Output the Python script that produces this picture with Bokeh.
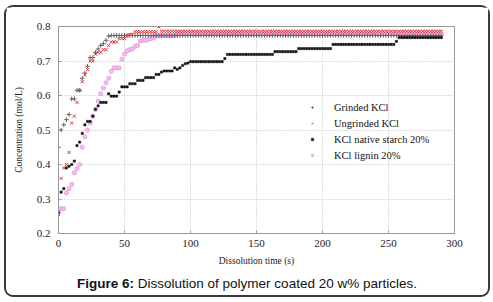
from bokeh.plotting import figure
from bokeh.models import Legend, LegendItem, FixedTicker, Range1d, ColumnDataSource, Div
from bokeh.layouts import column
from bokeh.embed import file_html
from bokeh.resources import INLINE

# time grid (s)
time_s = list(range(0, 292, 2))

grinded = [
    0.450, 0.500, 0.515, 0.530, 0.545, 0.590, 0.590, 0.615, 0.615, 0.650,
    0.665, 0.685, 0.710, 0.710, 0.725, 0.735, 0.745, 0.750, 0.760, 0.772,
    0.774, 0.774, 0.774, 0.774, 0.774, 0.774, 0.774, 0.774, 0.774, 0.774,
    0.774, 0.774, 0.774, 0.774, 0.774, 0.774, 0.774, 0.774, 0.774, 0.774,
    0.774, 0.774, 0.774, 0.774, 0.774, 0.774, 0.774, 0.774, 0.774, 0.774,
    0.774, 0.774, 0.774, 0.774, 0.774, 0.774, 0.774, 0.774, 0.774, 0.774,
    0.774, 0.774, 0.774, 0.774, 0.774, 0.774, 0.774, 0.774, 0.774, 0.774,
    0.774, 0.774, 0.774, 0.774, 0.774, 0.774, 0.774, 0.774, 0.774, 0.774,
    0.774, 0.774, 0.774, 0.774, 0.774, 0.774, 0.774, 0.774, 0.774, 0.774,
    0.774, 0.774, 0.774, 0.774, 0.774, 0.774, 0.774, 0.774, 0.774, 0.774,
    0.774, 0.774, 0.774, 0.774, 0.774, 0.774, 0.774, 0.774, 0.774, 0.774,
    0.774, 0.774, 0.774, 0.774, 0.774, 0.774, 0.774, 0.774, 0.774, 0.774,
    0.774, 0.774, 0.774, 0.774, 0.774, 0.774, 0.774, 0.774, 0.774, 0.774,
    0.773, 0.773, 0.773, 0.773, 0.773, 0.773, 0.773, 0.773, 0.773, 0.773,
    0.773, 0.773, 0.773, 0.773, 0.773, 0.773,
]

ungrinded = [
    0.255, 0.360, 0.390, 0.400, 0.435, 0.520, 0.540, 0.580, 0.615, 0.640,
    0.660, 0.675, 0.700, 0.700, 0.720, 0.725, 0.725, 0.733, 0.733, 0.745,
    0.755, 0.755, 0.755, 0.765, 0.765, 0.765, 0.774, 0.777, 0.777, 0.785,
    0.785, 0.785, 0.785, 0.785, 0.785, 0.785, 0.785, 0.785, 0.799, 0.786,
    0.786, 0.786, 0.786, 0.786, 0.786, 0.786, 0.786, 0.786, 0.786, 0.786,
    0.786, 0.786, 0.786, 0.786, 0.786, 0.786, 0.786, 0.786, 0.786, 0.786,
    0.786, 0.786, 0.786, 0.786, 0.786, 0.786, 0.786, 0.786, 0.786, 0.786,
    0.786, 0.786, 0.786, 0.786, 0.786, 0.786, 0.786, 0.786, 0.786, 0.786,
    0.786, 0.786, 0.786, 0.786, 0.786, 0.786, 0.786, 0.786, 0.786, 0.786,
    0.786, 0.786, 0.786, 0.786, 0.786, 0.786, 0.786, 0.786, 0.786, 0.786,
    0.786, 0.786, 0.786, 0.786, 0.786, 0.786, 0.786, 0.786, 0.786, 0.786,
    0.786, 0.786, 0.786, 0.786, 0.786, 0.786, 0.786, 0.786, 0.786, 0.786,
    0.786, 0.786, 0.786, 0.786, 0.786, 0.786, 0.786, 0.786, 0.786, 0.786,
    0.786, 0.786, 0.786, 0.786, 0.786, 0.786, 0.786, 0.786, 0.786, 0.786,
    0.786, 0.786, 0.786, 0.786, 0.786, 0.786,
]

native_starch = [
    0.260, 0.320, 0.330, 0.390, 0.395, 0.400, 0.410, 0.455, 0.465, 0.490,
    0.515, 0.525, 0.525, 0.540, 0.560, 0.570, 0.580, 0.580, 0.580, 0.605,
    0.598, 0.598, 0.598, 0.610, 0.625, 0.625, 0.625, 0.634, 0.634, 0.634,
    0.644, 0.644, 0.644, 0.652, 0.652, 0.652, 0.652, 0.661, 0.661, 0.668,
    0.671, 0.671, 0.671, 0.671, 0.680, 0.676, 0.680, 0.687, 0.692, 0.694,
    0.698, 0.698, 0.698, 0.698, 0.698, 0.698, 0.698, 0.698, 0.698, 0.698,
    0.698, 0.698, 0.698, 0.707, 0.719, 0.719, 0.719, 0.719, 0.719, 0.719,
    0.719, 0.719, 0.719, 0.719, 0.719, 0.719, 0.719, 0.719, 0.719, 0.719,
    0.719, 0.719, 0.727, 0.727, 0.727, 0.727, 0.727, 0.727, 0.727, 0.727,
    0.727, 0.736, 0.736, 0.736, 0.736, 0.736, 0.736, 0.736, 0.736, 0.736,
    0.736, 0.736, 0.736, 0.736, 0.748, 0.748, 0.748, 0.748, 0.748, 0.748,
    0.748, 0.748, 0.748, 0.748, 0.748, 0.748, 0.748, 0.748, 0.748, 0.748,
    0.748, 0.748, 0.748, 0.748, 0.748, 0.748, 0.748, 0.748, 0.757, 0.768,
    0.768, 0.768, 0.768, 0.768, 0.768, 0.768, 0.768, 0.768, 0.768, 0.768,
    0.768, 0.768, 0.768, 0.768, 0.768, 0.768,
]

lignin = [
    0.262, 0.272, 0.272, 0.318, 0.330, 0.342, 0.376, 0.388, 0.400, 0.450,
    0.480, 0.500, 0.520, 0.540, 0.560, 0.583, 0.605, 0.622, 0.637, 0.650,
    0.670, 0.680, 0.680, 0.680, 0.705, 0.720, 0.730, 0.733, 0.735, 0.743,
    0.745, 0.758, 0.760, 0.760, 0.762, 0.765, 0.767, 0.773, 0.773, 0.773,
    0.773, 0.773, 0.773, 0.773, 0.773, 0.779, 0.779, 0.779, 0.779, 0.779,
    0.779, 0.779, 0.779, 0.779, 0.779, 0.779, 0.779, 0.779, 0.779, 0.779,
    0.779, 0.779, 0.779, 0.779, 0.779, 0.779, 0.779, 0.779, 0.779, 0.779,
    0.779, 0.779, 0.779, 0.779, 0.779, 0.779, 0.779, 0.779, 0.779, 0.779,
    0.779, 0.779, 0.779, 0.779, 0.779, 0.779, 0.779, 0.779, 0.779, 0.779,
    0.779, 0.779, 0.779, 0.779, 0.779, 0.779, 0.779, 0.779, 0.779, 0.779,
    0.779, 0.779, 0.779, 0.779, 0.779, 0.779, 0.779, 0.779, 0.779, 0.779,
    0.779, 0.779, 0.779, 0.779, 0.779, 0.779, 0.779, 0.779, 0.779, 0.779,
    0.779, 0.779, 0.779, 0.779, 0.779, 0.779, 0.779, 0.779, 0.779, 0.779,
    0.779, 0.779, 0.779, 0.779, 0.779, 0.779, 0.779, 0.779, 0.779, 0.779,
    0.779, 0.779, 0.779, 0.779, 0.779, 0.779,
]

series_names = ["Grinded KCl", "Ungrinded KCl", "KCl native starch 20%", "KCl lignin 20%"]
x_ticks = [0, 50, 100, 150, 200, 250, 300]
y_ticks = [0.2, 0.3, 0.4, 0.5, 0.6, 0.7, 0.8]
caption_bold = "Figure 6:"
caption_text = "Dissolution of polymer coated 20 w% particles."

SERIF = "Liberation Serif"

p = figure(width=482, height=262, x_range=Range1d(0, 300), y_range=Range1d(0.2, 0.8),
           output_backend="svg", toolbar_location=None, margin=0,
           min_border_left=52, min_border_right=34, min_border_top=19, min_border_bottom=36)

p.outline_line_color = "#9a9a9a"
p.outline_line_width = 1

for ax in (p.xaxis[0], p.yaxis[0]):
    ax.axis_line_color = "#9a9a9a"
    ax.major_tick_in = 3
    ax.major_tick_out = 0
    ax.major_tick_line_color = "#9a9a9a"
    ax.minor_tick_line_color = None
    ax.major_label_text_font = SERIF
    ax.major_label_text_font_size = "11px"
    ax.major_label_text_color = "#222222"
    ax.axis_label_text_font = SERIF
    ax.axis_label_text_font_size = "9.5px"
    ax.axis_label_text_font_style = "normal"
    ax.axis_label_text_color = "#222222"

p.xaxis[0].ticker = FixedTicker(ticks=x_ticks)
p.yaxis[0].ticker = FixedTicker(ticks=y_ticks)
p.xaxis[0].axis_label = "Dissolution time (s)"
p.yaxis[0].axis_label = "Concentration (mol/L)"
p.xaxis[0].major_label_standoff = 6
p.yaxis[0].major_label_standoff = 8
p.xaxis[0].axis_label_standoff = 6
p.yaxis[0].axis_label_standoff = 10

for g in (p.xgrid[0], p.ygrid[0]):
    g.grid_line_color = "#bdbdbd"
    g.grid_line_dash = "1 2"
    g.grid_line_width = 1

src = ColumnDataSource(dict(t=time_s, g=grinded, u=ungrinded, s=native_starch, l=lignin))

r_l = p.scatter("t", "l", source=src, marker="circle", size=4, line_color="#e58bd9",
                fill_color="#f4c4ee", line_width=0.8)
r_g = p.scatter("t", "g", source=src, marker="cross", size=4.5, line_color="#606060", line_width=1)
r_u = p.scatter("t", "u", source=src, marker="x", size=4.5, line_color="#e8353b", line_width=1)
r_s = p.scatter("t", "s", source=src, marker="square", size=2.2, line_color="#111111",
                fill_color="#111111", line_width=0.5)

legend = Legend(items=[
    LegendItem(label=series_names[0], renderers=[r_g]),
    LegendItem(label=series_names[1], renderers=[r_u]),
    LegendItem(label=series_names[2], renderers=[r_s]),
    LegendItem(label=series_names[3], renderers=[r_l]),
], location=(251, 70))
legend.background_fill_alpha = 0
legend.border_line_color = None
legend.label_text_font = SERIF
legend.label_text_font_size = "10.5px"
legend.label_text_color = "#111111"
legend.glyph_width = 6
legend.glyph_height = 6
legend.label_height = 16
legend.label_standoff = 19
legend.spacing = 0
legend.padding = 0
legend.margin = 0
p.add_layout(legend)

cap = Div(
    text=('<div style="width:482px;text-align:center;font-family:\'Liberation Sans\',Arial,sans-serif;'
          'font-size:13.5px;color:#111;padding-top:5px;white-space:nowrap">'
          '<b>' + caption_bold + '</b> ' + caption_text + '</div>'),
    width=482, height=26, margin=0)

layout = column(p, cap, margin=(5, 0, 0, 4), spacing=0,
                styles={"border": "2px solid #3a3a3a", "border-radius": "9px", "box-sizing": "content-box"})

open("out.html", "w").write(file_html(layout, INLINE))
